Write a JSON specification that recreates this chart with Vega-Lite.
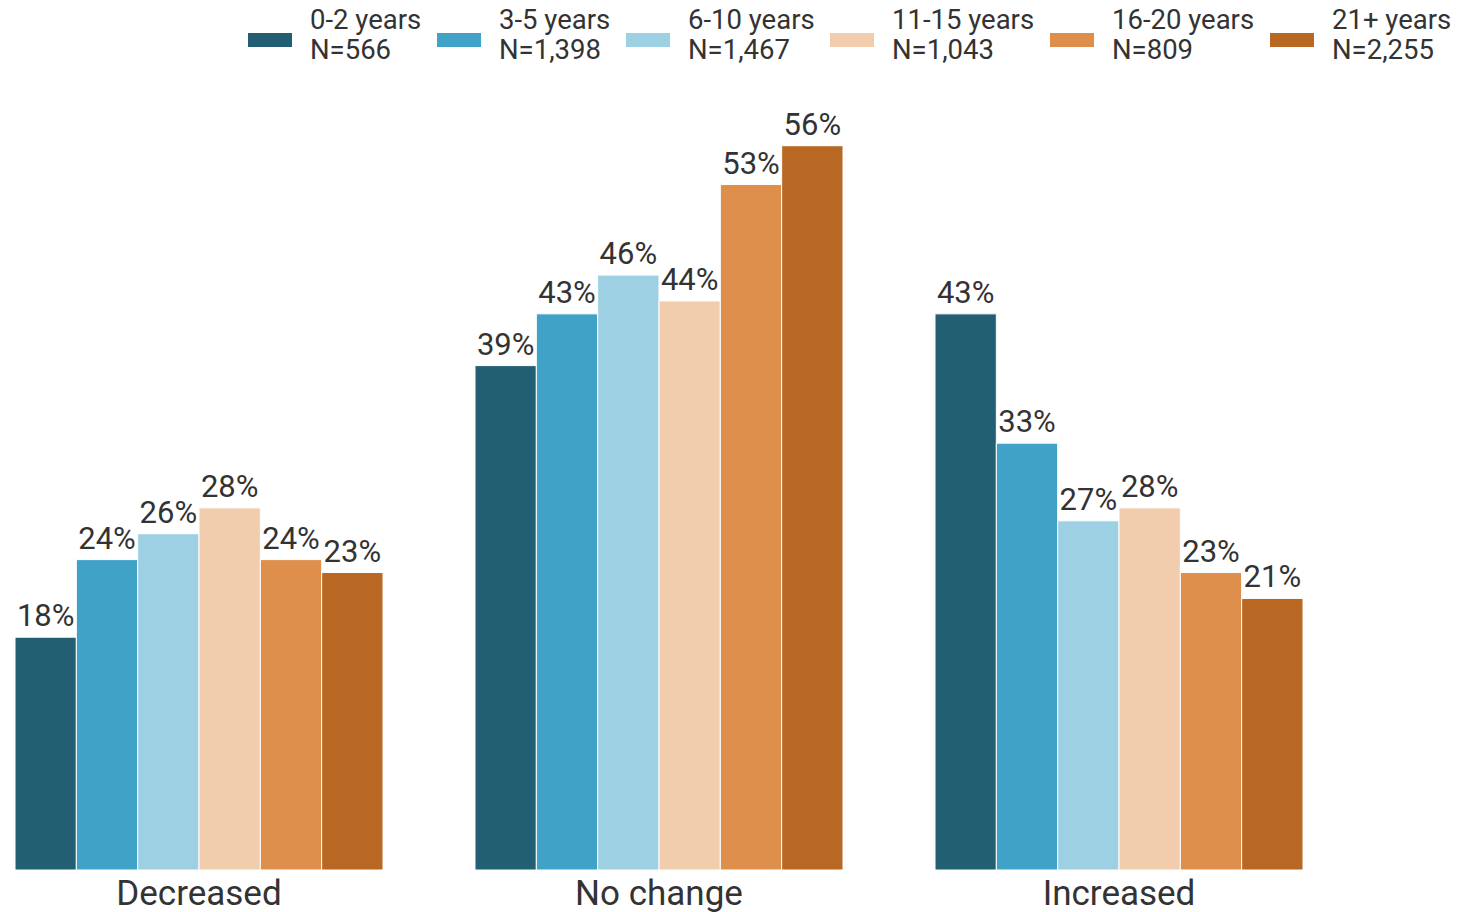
{
  "$schema": "https://vega.github.io/schema/vega-lite/v6.json",
  "autosize": {"type": "none"},
  "padding": {"left": 15, "top": 94, "right": 155, "bottom": 42},
  "width": 1288,
  "height": 776,
  "background": "white",
  "config": {
    "font": "Roboto",
    "view": {"stroke": null},
    "text": {"font": "Roboto"}
  },
  "data": {
    "values": [
      {"change": "Decreased", "group": "0-2 years|N=566", "pct": 0.18, "label": "18%"},
      {"change": "Decreased", "group": "3-5 years|N=1,398", "pct": 0.24, "label": "24%"},
      {"change": "Decreased", "group": "6-10 years|N=1,467", "pct": 0.26, "label": "26%"},
      {"change": "Decreased", "group": "11-15 years|N=1,043", "pct": 0.28, "label": "28%"},
      {"change": "Decreased", "group": "16-20 years|N=809", "pct": 0.24, "label": "24%"},
      {"change": "Decreased", "group": "21+ years|N=2,255", "pct": 0.23, "label": "23%"},
      {"change": "No change", "group": "0-2 years|N=566", "pct": 0.39, "label": "39%"},
      {"change": "No change", "group": "3-5 years|N=1,398", "pct": 0.43, "label": "43%"},
      {"change": "No change", "group": "6-10 years|N=1,467", "pct": 0.46, "label": "46%"},
      {"change": "No change", "group": "11-15 years|N=1,043", "pct": 0.44, "label": "44%"},
      {"change": "No change", "group": "16-20 years|N=809", "pct": 0.53, "label": "53%"},
      {"change": "No change", "group": "21+ years|N=2,255", "pct": 0.56, "label": "56%"},
      {"change": "Increased", "group": "0-2 years|N=566", "pct": 0.43, "label": "43%"},
      {"change": "Increased", "group": "3-5 years|N=1,398", "pct": 0.33, "label": "33%"},
      {"change": "Increased", "group": "6-10 years|N=1,467", "pct": 0.27, "label": "27%"},
      {"change": "Increased", "group": "11-15 years|N=1,043", "pct": 0.28, "label": "28%"},
      {"change": "Increased", "group": "16-20 years|N=809", "pct": 0.23, "label": "23%"},
      {"change": "Increased", "group": "21+ years|N=2,255", "pct": 0.21, "label": "21%"}
    ]
  },
  "encoding": {
    "x": {
      "field": "change",
      "type": "nominal",
      "sort": ["Decreased", "No change", "Increased"],
      "scale": {"paddingInner": 0.2, "paddingOuter": 0},
      "axis": {
        "title": null,
        "labelAngle": 0,
        "labelFontSize": 35,
        "labelColor": "#333333",
        "labelPadding": 6,
        "ticks": false,
        "domain": false
      }
    },
    "xOffset": {
      "field": "group",
      "type": "nominal",
      "sort": null,
      "scale": {"paddingInner": 0, "paddingOuter": 0}
    },
    "y": {
      "field": "pct",
      "type": "quantitative",
      "scale": {"domain": [0, 0.6], "nice": false},
      "axis": null
    }
  },
  "layer": [
    {
      "mark": {"type": "bar", "stroke": "white", "strokeWidth": 1},
      "encoding": {
        "color": {
          "field": "group",
          "type": "nominal",
          "sort": null,
          "scale": {
            "domain": ["0-2 years|N=566", "3-5 years|N=1,398", "6-10 years|N=1,467", "11-15 years|N=1,043", "16-20 years|N=809", "21+ years|N=2,255"],
            "range": ["#235f73", "#41a2c8", "#9ed0e3", "#f1cdae", "#dd8f4b", "#b86822"]
          },
          "legend": {
            "title": null,
            "orient": "none",
            "direction": "horizontal",
            "legendX": 233,
            "legendY": -95,
            "padding": 0,
            "labelExpr": "split(datum.label, '|')",
            "labelFontSize": 27.5,
            "labelColor": "#333333",
            "labelOffset": 18,
            "labelLimit": 400,
            "columnPadding": 15,
            "symbolType": "M-1,0.544H1V1.182H-1Z",
            "symbolSize": 1936,
            "symbolStrokeWidth": 0,
            "symbolOpacity": 1,
            "encode": {
              "labels": {"update": {"lineHeight": {"value": 31}}}
            }
          }
        }
      }
    },
    {
      "mark": {"type": "text", "dy": -11, "baseline": "alphabetic", "align": "center", "fontSize": 31, "color": "#333333"},
      "encoding": {
        "text": {"field": "label"}
      }
    }
  ]
}
